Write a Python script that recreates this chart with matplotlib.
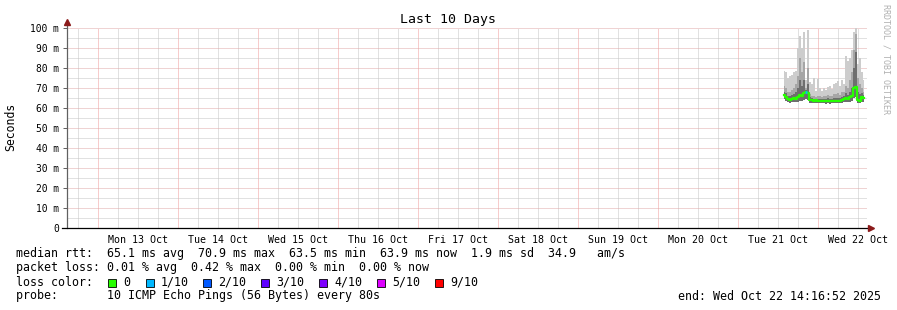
import numpy as np
import matplotlib
matplotlib.use("Agg")
import matplotlib.pyplot as plt
from matplotlib.lines import Line2D
from matplotlib.patches import Rectangle

W, H = 897, 310
MONO = "DejaVu Sans Mono"

# time axis in hours since Mon 13 Oct 00:00, 10 day window (0.3 h per pixel)
t_begin = -9.3
t_end = t_begin + 240
t_first = 205.7
t_step = 0.6

# values (ms)
median_ms = [66.3, 65.5, 64.5, 64.0, 64.5, 65.0, 64.5, 65.5, 66.5, 66.0,
             67.5, 68.0, 67.5, 64.0, 64.0, 63.5, 63.8, 63.5, 63.5, 63.7,
             63.5, 63.4, 63.5, 63.4, 63.5, 63.6, 63.5, 63.5, 63.7, 63.8,
             64.5, 65.0, 64.5, 65.5, 66.0, 70.0, 70.5, 64.0, 63.5, 65.5, 65.0]
smoke_max_ms = [78.5, 78.0, 75.0, 76.0, 76.5, 78.0, 78.5, 90.0, 96.0, 90.0,
                98.0, 74.0, 99.0, 73.0, 72.0, 75.0, 68.5, 74.5, 70.0, 68.5,
                70.0, 69.0, 70.5, 71.0, 69.5, 72.0, 72.5, 73.5, 71.0, 74.0,
                72.0, 86.0, 83.5, 85.0, 89.0, 98.0, 101.0, 82.0, 85.0, 78.0, 74.0]
smoke_hi_ms = [71.0, 70.0, 68.0, 68.0, 69.0, 70.0, 72.0, 76.0, 85.0, 78.0,
               83.0, 70.0, 80.0, 67.0, 66.0, 66.0, 65.5, 66.0, 66.0, 65.5,
               66.0, 66.0, 66.5, 66.0, 66.0, 67.0, 67.0, 67.5, 66.5, 68.0,
               68.0, 71.0, 70.0, 74.0, 78.0, 89.0, 97.0, 75.0, 72.0, 70.0, 68.0]
smoke_mid_ms = [68.0, 67.5, 66.0, 66.0, 66.5, 67.0, 68.0, 70.0, 74.0, 71.0,
                74.0, 69.0, 72.0, 65.5, 65.0, 64.5, 64.5, 64.5, 64.5, 64.5,
                64.5, 64.5, 65.0, 64.5, 64.5, 65.0, 65.0, 65.0, 65.0, 65.5,
                66.0, 67.5, 66.5, 68.0, 70.0, 80.0, 88.0, 68.0, 67.0, 67.5, 66.5]
smoke_low_ms = [64.5, 63.5, 62.8, 62.5, 62.8, 63.0, 62.8, 63.0, 63.5, 63.5,
                64.0, 64.5, 64.0, 62.5, 62.5, 62.3, 62.5, 62.3, 62.3, 62.4,
                62.3, 62.2, 62.3, 62.2, 62.3, 62.4, 62.3, 62.3, 62.5, 62.5,
                62.8, 63.0, 62.8, 63.2, 63.5, 65.0, 65.5, 62.5, 62.3, 63.0, 63.0]
loss_count = [0, 0, 0, 0, 0, 0, 0, 0, 0, 0,
              0, 1, 0, 0, 0, 0, 0, 0, 0, 0,
              0, 0, 0, 0, 0, 0, 0, 0, 0, 0,
              0, 0, 0, 0, 0, 0, 0, 0, 0, 0, 0]

loss_labels = ["0", "1/10", "2/10", "3/10", "4/10", "5/10", "9/10"]
loss_colors = ["#26ff00", "#00b8ff", "#0059ff", "#5e00ff", "#7e00ff", "#dd00ff", "#ff0000"]
day_labels = ["Mon 13 Oct", "Tue 14 Oct", "Wed 15 Oct", "Thu 16 Oct", "Fri 17 Oct",
              "Sat 18 Oct", "Sun 19 Oct", "Mon 20 Oct", "Tue 21 Oct", "Wed 22 Oct"]
y_ticks = [0, 10, 20, 30, 40, 50, 60, 70, 80, 90, 100]
y_labels = ["0"] + ["%d m" % v for v in y_ticks[1:]]

legend_lines = [
    "median rtt:  65.1 ms avg  70.9 ms max  63.5 ms min  63.9 ms now  1.9 ms sd  34.9   am/s",
    "packet loss: 0.01 % avg  0.42 % max  0.00 % min  0.00 % now",
]
probe_text = "probe:       10 ICMP Echo Pings (56 Bytes) every 80s"
end_text = "end: Wed Oct 22 14:16:52 2025"


def px(x, y):
    return x / W, 1 - y / H


fig = plt.figure(figsize=(W / 100, H / 100), dpi=100)
ax = fig.add_axes([67 / W, (H - 228) / H, 800 / W, 200 / H])
times = t_first + t_step * np.arange(len(median_ms))

# dotted grid like rrdtool
grid_gray = "#c4c4c4"
grid_red = "#f09a9a"
dash = (0, (1, 1))
gkw = dict(lw=0.72, ls=dash, zorder=0)
for h in np.arange(-6, t_end, 6):
    if h % 24 != 0:
        ax.axvline(h, color=grid_gray, **gkw)
for h in np.arange(0, t_end, 24):
    ax.axvline(h, color=grid_red, **gkw)
for v in range(5, 100, 10):
    ax.axhline(v, color=grid_gray, **gkw)
for v in y_ticks[1:]:
    ax.axhline(v, color="#e0a8a8", **gkw)

# smoke
ax.fill_between(times, smoke_low_ms, smoke_max_ms, step="mid", color="#cdcdcd", lw=0, zorder=2)
ax.fill_between(times, smoke_low_ms, smoke_hi_ms, step="mid", color="#a6a6a6", lw=0, zorder=3)
ax.fill_between(times, smoke_low_ms, smoke_mid_ms, step="mid", color="#6e6e6e", lw=0, zorder=4)

# median coloured by loss
ax.step(times, median_ms, where="mid", color=loss_colors[0], lw=1.6, zorder=5)
for t, m, l in zip(times, median_ms, loss_count):
    if l > 0:
        ax.hlines(m, t - t_step / 2, t + t_step / 2, color=loss_colors[l], lw=1.8, zorder=6)

ax.set_xlim(t_begin, t_end)
ax.set_ylim(0, 100)
for s in ax.spines.values():
    s.set_visible(False)
ax.set_yticks(y_ticks, y_labels, fontfamily=MONO, fontsize=6.9)
ax.set_xticks(np.arange(12, 240, 24), day_labels, fontfamily=MONO, fontsize=7.2)
ax.tick_params(axis="y", length=3, width=0.7, pad=3, color="#606060")
ax.tick_params(axis="x", length=0, pad=5)

# axes lines with arrows
fig.add_artist(Line2D([67 / W, 67 / W], [px(0, 228)[1], px(0, 22)[1]], color="#606060", lw=0.9))
fig.add_artist(Line2D([62 / W, 869 / W], [px(0, 228)[1]] * 2, color="black", lw=0.9))
fig.add_artist(Line2D([67 / W], [px(0, 22)[1]], marker="^", ms=4, color="#8b1a1a", lw=0))
fig.add_artist(Line2D([871 / W], [px(0, 228)[1]], marker=">", ms=4, color="#8b1a1a", lw=0))

fig.text(*px(448, 19), "Last 10 Days", ha="center", va="center", fontfamily=MONO, fontsize=9.5)
fig.text(*px(11, 127), "Seconds", ha="center", va="center", rotation=90, fontfamily=MONO, fontsize=8.3)
fig.text(*px(886, 4), "RRDTOOL / TOBI OETIKER", ha="center", va="top", rotation=-90,
         fontfamily=MONO, fontsize=6, color="#b0b0b0")

# legend
for i, line in enumerate(legend_lines):
    fig.text(*px(16, 254 + 14 * i), line, ha="left", va="center", fontfamily=MONO, fontsize=8.4)
fig.text(*px(16, 282), "loss color:", ha="left", va="center", fontfamily=MONO, fontsize=8.4)
box_x = [108, 146, 203, 261, 319, 377, 435]
for bx, lab, c in zip(box_x, loss_labels, loss_colors):
    x0, y0 = px(bx, 287)
    fig.add_artist(Rectangle((x0, y0), 8 / W, 8 / H, facecolor=c, edgecolor="black", lw=0.6))
    fig.text(*px(bx + 15, 282), lab, ha="left", va="center", fontfamily=MONO, fontsize=8.4)
fig.text(*px(16, 296), probe_text, ha="left", va="center", fontfamily=MONO, fontsize=8.4)
fig.text(*px(881, 296), end_text, ha="right", va="center", fontfamily=MONO, fontsize=8.4)

fig.savefig("out.png", dpi=100, facecolor="white")
